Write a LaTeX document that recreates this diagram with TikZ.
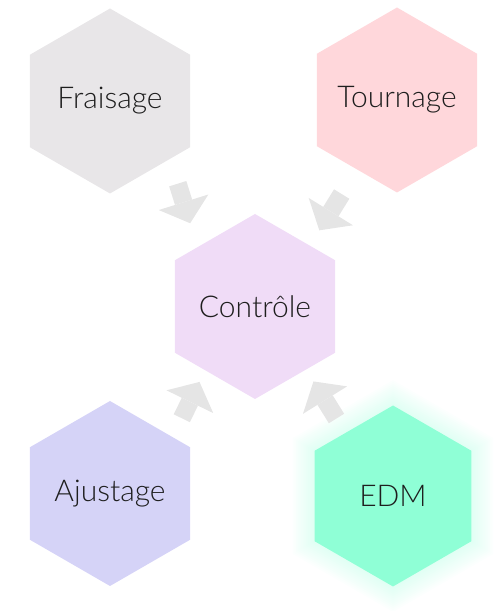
\documentclass[tikz,border=0pt]{standalone}
\usepackage{fontspec}
\setmainfont{Lato Light}
\usepackage{tikz}
\usetikzlibrary{shapes.geometric,arrows.meta,backgrounds}
\definecolor{fraisagefill}{HTML}{E8E6E8}
\definecolor{tournagefill}{HTML}{FFD7DB}
\definecolor{controlefill}{HTML}{F0DCF7}
\definecolor{ajustagefill}{HTML}{D5D3F7}
\definecolor{edmfill}{HTML}{8FFFD6}
\definecolor{arrowgray}{HTML}{E5E5E5}
\definecolor{labelgray}{HTML}{1E1E1E}

\begin{document}
\begin{tikzpicture}[
    x=1pt,y=1pt,
    font=\fontsize{30}{36}\selectfont,
    hexa/.style={regular polygon,regular polygon sides=6,shape border rotate=90,minimum size=185pt,inner sep=-20pt,outer sep=0pt,text=labelgray},
    bigarr/.style={draw=arrowgray,line width=18pt,-{Triangle[length=22pt,width=52pt,line width=0pt]}},
    glow/.style={fill=edmfill,opacity=0.022}
  ]
    \useasboundingbox (0,0) rectangle (500,611);

    \node[hexa,fill=fraisagefill] (fra) at (110,510) {Fraisage};
    \node[hexa,fill=tournagefill] (tou) at (397,511) {Tournage};
    \node[hexa,fill=controlefill] (ctl) at (255,304.5) {Contrôle};
    \node[hexa,fill=ajustagefill] (ajs) at (110,117.5) {Ajustage};
    \node[hexa,fill=edmfill,minimum size=181pt] (edm) at (393,115) {EDM};

    \begin{scope}[on background layer]
      \foreach \r in {92,94,...,116}
        \fill[glow] ([shift={(90:\r)}]edm.center) -- ([shift={(150:\r)}]edm.center)
          -- ([shift={(210:\r)}]edm.center) -- ([shift={(270:\r)}]edm.center)
          -- ([shift={(330:\r)}]edm.center) -- ([shift={(30:\r)}]edm.center) -- cycle;
    \end{scope}

    \draw[bigarr,shorten <=26pt,shorten >=25pt] (fra.-44) -- (ctl.134);
    \draw[bigarr,shorten <=29pt,shorten >=18pt] (tou.-120) -- (ctl.48);
    \draw[bigarr,shorten <=21pt,shorten >=13pt] (ajs.42) -- (ctl.-128);
    \draw[bigarr,shorten <=17pt,shorten >=14pt] (edm.127) -- (ctl.-51);
  \end{tikzpicture}
\end{document}
